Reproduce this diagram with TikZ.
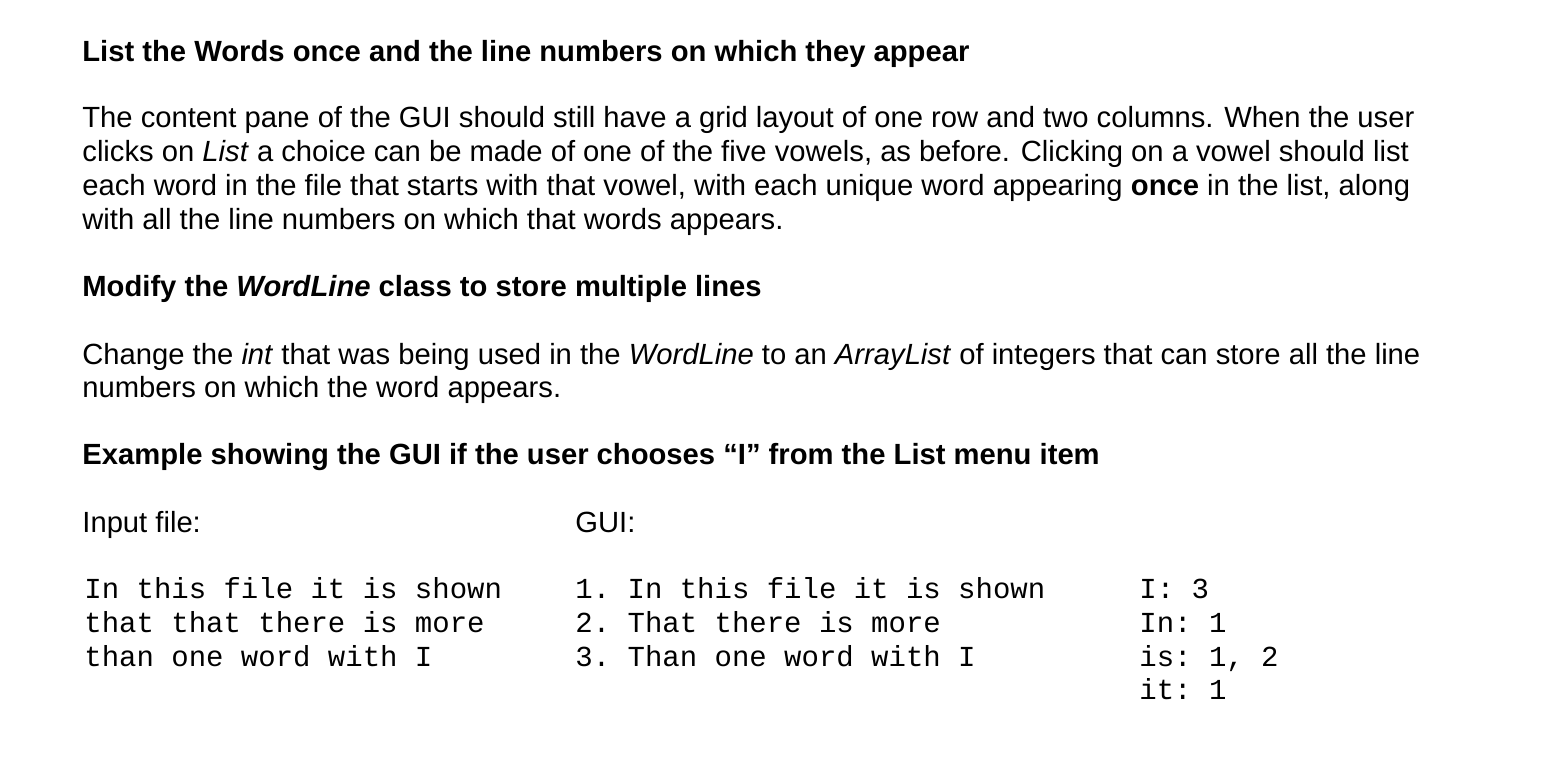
\documentclass[tikz,border=0pt]{standalone}
\usepackage{fontspec}
\setmainfont{Liberation Sans}
\setmonofont{Liberation Mono}
\begin{document}
\begin{tikzpicture}[x=0.5pt,y=-0.5pt,
  txt/.style={anchor=base west,inner sep=0pt,font=\fontsize{14.6}{16}\selectfont},
  btxt/.style={txt,font=\fontsize{14.6}{16}\selectfont\bfseries},
  mono/.style={anchor=base west,inner sep=0pt,font=\fontsize{14.5}{16}\ttfamily}]
\useasboundingbox (0,0) rectangle (1544,758);
\node[btxt] (t1) at (82,62) {List the Words once and the line numbers on which they appear};
\node[txt] (p1) at (82,128) {The content pane of the GUI should still have a grid layout of one row and two columns. When the user};
\node[txt] (p2) at (82,162) {clicks on \textit{List} a choice can be made of one of the five vowels, as before. Clicking on a vowel should list};
\node[txt] (p3) at (82,196) {each word in the file that starts with that vowel, with each unique word appearing \textbf{once} in the list, along};
\node[txt] (p4) at (82,230) {with all the line numbers on which that words appears.};
\node[btxt] (t2) at (82,297) {Modify the \textit{WordLine} class to store multiple lines};
\node[txt] (q1) at (82,365) {Change the \textit{int} that was being used in the \textit{WordLine} to an \textit{ArrayList} of integers that can store all the line};
\node[txt] (q2) at (82,398) {numbers on which the word appears.};
\node[btxt] (t3) at (82,465) {Example showing the GUI if the user chooses “I” from the List menu item};
\node[txt] (in) at (82,533) {Input file:};
\node[txt] (gui) at (575,533) {GUI:};
\node[mono] (a1) at (84,599) {In this file it is shown};
\node[mono] (a2) at (84,633) {that that there is more};
\node[mono] (a3) at (84,667) {than one word with I};
\node[mono] (b1) at (575,599) {1. In this file it is shown};
\node[mono] (b2) at (575,633) {2. That there is more};
\node[mono] (b3) at (575,667) {3. Than one word with I};
\node[mono] (c1) at (1139,599) {I: 3};
\node[mono] (c2) at (1139,633) {In: 1};
\node[mono] (c3) at (1139,667) {is: 1, 2};
\node[mono] (c4) at (1139,700) {it: 1};
\end{tikzpicture}
\end{document}
